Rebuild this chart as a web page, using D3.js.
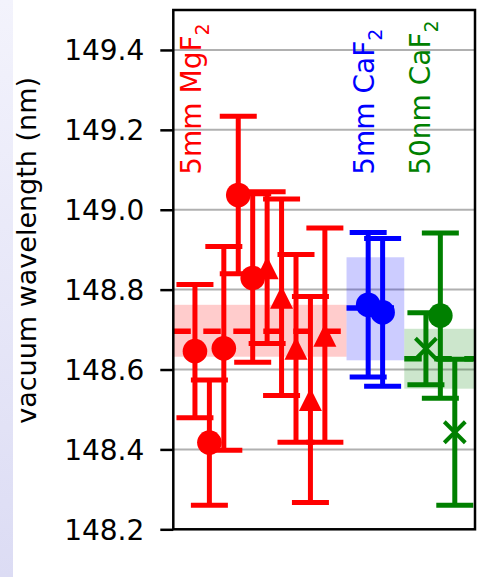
<!DOCTYPE html>
<html>
<head>
<meta charset="utf-8">
<script src="https://cdn.jsdelivr.net/npm/d3@7"></script>
<style>
  html, body { margin: 0; padding: 0; background: #fff; }
  svg { display: block; font-family: "DejaVu Sans", sans-serif; }
</style>
</head>
<body>
<svg id="chart"></svg>
<script>
// x = slot along the hidden x axis, y = vacuum wavelength (nm), err = 1 sigma
const mgfCircleX = [1, 2, 3, 4, 5];
const mgfCircleY = [148.646, 148.417, 148.653, 149.037, 148.829];
const mgfCircleErr = [0.167, 0.157, 0.255, 0.197, 0.211];

const mgfTriX = [6, 7, 8, 9, 10];
const mgfTriY = [148.855, 148.781, 148.653, 148.525, 148.686];
const mgfTriErr = [0.19, 0.246, 0.235, 0.258, 0.268];

const cafCircleX = [13, 14];
const cafCircleY = [148.762, 148.743];
const cafCircleErr = [0.181, 0.185];

const nmCircleX = [18];
const nmCircleY = [148.735];
const nmCircleErr = [0.207];

const nmCrossX = [17, 19];
const nmCrossY = [148.652, 148.443];
const nmCrossErr = [0.09, 0.183];

// weighted mean of each window and its band
const groupNames = ["5mm MgF", "5mm CaF", "50nm CaF"];
const groupMean = [148.696, 148.754, 148.627];
const groupLow = [148.632, 148.623, 148.552];
const groupHigh = [148.762, 148.881, 148.702];
const groupStart = [-0.5, 11.5, 15.5];
const groupEnd = [11.5, 15.5, 20.4];
const groupColors = ["#ff0000", "#0000ff", "#008000"];

const yTicks = [148.2, 148.4, 148.6, 148.8, 149.0, 149.2, 149.4];

const width = 485;
const height = 577;

const svg = d3.select("#chart")
  .attr("width", width)
  .attr("height", height);

const x = d3.scaleLinear().domain([-0.5, 20.4]).range([173.3, 475]);
const y = d3.scaleLinear().domain([148.2, 149.5]).range([529.3, 10]);

// page background + the lavender strip on the left edge
svg.append("rect").attr("width", width).attr("height", height).attr("fill", "#fff");
const grad = svg.append("defs").append("linearGradient")
  .attr("id", "strip").attr("x1", 0).attr("y1", 0).attr("x2", 0).attr("y2", 1);
grad.append("stop").attr("offset", "0%").attr("stop-color", "#f3f3fc");
grad.append("stop").attr("offset", "100%").attr("stop-color", "#dcdcf4");
svg.append("rect").attr("x", 0).attr("y", 0).attr("width", 13).attr("height", height)
  .attr("fill", "url(#strip)");

svg.select("defs").append("clipPath").attr("id", "plotclip")
  .append("rect")
  .attr("x", x.range()[0]).attr("y", y.range()[1])
  .attr("width", x.range()[1] - x.range()[0])
  .attr("height", y.range()[0] - y.range()[1]);

const plot = svg.append("g").attr("clip-path", "url(#plotclip)");

// grid
plot.selectAll(".grid")
  .data(yTicks)
  .join("line")
  .attr("x1", x.range()[0]).attr("x2", x.range()[1])
  .attr("y1", d => y(d)).attr("y2", d => y(d))
  .attr("stroke", "#b0b0b0")
  .attr("stroke-width", 2);

// bands and dashed means
const groups = groupMean.map((m, i) => ({
  mean: m, lo: groupLow[i], hi: groupHigh[i],
  x0: groupStart[i], x1: groupEnd[i], color: groupColors[i]
}));

plot.selectAll(".band")
  .data(groups)
  .join("rect")
  .attr("x", d => x(d.x0))
  .attr("width", d => x(d.x1) - x(d.x0))
  .attr("y", d => y(d.hi))
  .attr("height", d => y(d.lo) - y(d.hi))
  .attr("fill", d => d.color)
  .attr("fill-opacity", 0.2);

plot.selectAll(".mean")
  .data(groups)
  .join("line")
  .attr("x1", d => x(d.x0)).attr("x2", d => x(d.x1))
  .attr("y1", d => y(d.mean)).attr("y2", d => y(d.mean))
  .attr("stroke", d => d.color)
  .attr("stroke-width", 5.5)
  .attr("stroke-dasharray", "17.5,12.5");

const capHalf = 18.5;

let drawErrorbars = (xs, ys, errs, color, marker) => {
  const pts = xs.map((v, i) => ({x: v, y: ys[i], e: errs[i]}));
  const g = plot.append("g");

  g.selectAll(".bar")
    .data(pts)
    .join("line")
    .attr("x1", d => x(d.x)).attr("x2", d => x(d.x))
    .attr("y1", d => y(d.y - d.e)).attr("y2", d => y(d.y + d.e))
    .attr("stroke", color).attr("stroke-width", 5);

  const caps = pts.flatMap(d => [{x: d.x, y: d.y - d.e}, {x: d.x, y: d.y + d.e}]);
  g.selectAll(".cap")
    .data(caps)
    .join("line")
    .attr("x1", d => x(d.x) - capHalf).attr("x2", d => x(d.x) + capHalf)
    .attr("y1", d => y(d.y)).attr("y2", d => y(d.y))
    .attr("stroke", color).attr("stroke-width", 5);

  if (marker === "o") {
    g.selectAll(".mk")
      .data(pts)
      .join("circle")
      .attr("cx", d => x(d.x)).attr("cy", d => y(d.y))
      .attr("r", 12.3)
      .attr("fill", color);
  } else if (marker === "^") {
    const s = 11.5;
    g.selectAll(".mk")
      .data(pts)
      .join("path")
      .attr("d", d => {
        const cx = x(d.x), cy = y(d.y);
        return `M${cx},${cy - s}L${cx - s},${cy + s}L${cx + s},${cy + s}Z`;
      })
      .attr("fill", color);
  } else if (marker === "x") {
    const s = 10.5;
    g.selectAll(".mk")
      .data(pts)
      .join("path")
      .attr("d", d => {
        const cx = x(d.x), cy = y(d.y);
        return `M${cx - s},${cy - s}L${cx + s},${cy + s}M${cx - s},${cy + s}L${cx + s},${cy - s}`;
      })
      .attr("stroke", color)
      .attr("stroke-width", 4)
      .attr("fill", "none");
  }
};

drawErrorbars(mgfCircleX, mgfCircleY, mgfCircleErr, groupColors[0], "o");
drawErrorbars(mgfTriX, mgfTriY, mgfTriErr, groupColors[0], "^");
drawErrorbars(cafCircleX, cafCircleY, cafCircleErr, groupColors[1], "o");
drawErrorbars(nmCrossX, nmCrossY, nmCrossErr, groupColors[2], "x");
drawErrorbars(nmCircleX, nmCircleY, nmCircleErr, groupColors[2], "o");

// vertical window labels (anchor slot, start height)
const labelSlot = [1.43, 13.43, 17.31];
const labelStart = 149.0875;
groupNames.forEach((name, i) => {
  const t = svg.append("text")
    .attr("transform", `translate(${x(labelSlot[i])},${y(labelStart)}) rotate(-90)`)
    .attr("fill", groupColors[i])
    .attr("font-size", 28)
    .text(name);
  t.append("tspan")
    .attr("font-size", 19)
    .attr("dy", 8)
    .text("2");
});

// axes frame
svg.append("rect")
  .attr("x", x.range()[0]).attr("y", y.range()[1])
  .attr("width", x.range()[1] - x.range()[0])
  .attr("height", y.range()[0] - y.range()[1])
  .attr("fill", "none")
  .attr("stroke", "#000")
  .attr("stroke-width", 2.5);

const yAxis = svg.append("g")
  .attr("transform", `translate(${x.range()[0]},0)`)
  .call(d3.axisLeft(y).tickValues(yTicks).tickFormat(d3.format(".1f"))
    .tickSize(13).tickPadding(16));
yAxis.select(".domain").remove();
yAxis.selectAll(".tick line").attr("stroke", "#000").attr("stroke-width", 2.5);
yAxis.selectAll(".tick text")
  .attr("fill", "#000")
  .attr("font-size", 28)
  .attr("font-family", "DejaVu Sans, sans-serif")
  .attr("dy", "0.35em");

svg.append("text")
  .attr("transform", `translate(35.5,250.4) rotate(-90)`)
  .attr("text-anchor", "middle")
  .attr("font-size", 27)
  .attr("fill", "#000")
  .text("vacuum wavelength (nm)");
</script>
</body>
</html>
